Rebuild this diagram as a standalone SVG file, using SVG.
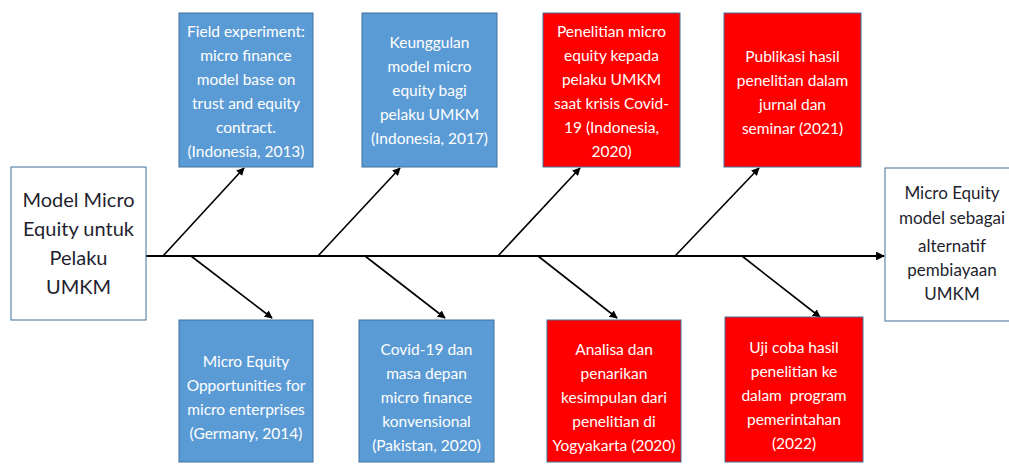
<svg xmlns="http://www.w3.org/2000/svg" width="1009" height="467" viewBox="0 0 1009 467">
<defs>
<marker id="ah" viewBox="0 0 10 10" refX="9" refY="5" markerWidth="5" markerHeight="5" orient="auto" markerUnits="strokeWidth">
<path d="M0,0 L10,5 L0,10 z" fill="#000"/>
</marker>
<marker id="ah2" viewBox="0 0 10 10" refX="9" refY="5" markerWidth="4" markerHeight="4" orient="auto" markerUnits="strokeWidth">
<path d="M0,0 L10,5 L0,10 z" fill="#000"/>
</marker>
<style>
.blue{fill:#5B9BD5;stroke:#41719C;stroke-width:1}
.red{fill:#FF0000;stroke:#41719C;stroke-width:1}
.wbox{fill:#FFFFFF;stroke:#41719C;stroke-width:1}
.t{font-family:Lato,"Liberation Sans",sans-serif;font-size:15.5px;fill:#FFFFFF;text-anchor:middle}
.d{font-family:Lato,"Liberation Sans",sans-serif;fill:#1F1F2F;text-anchor:middle}
.c{stroke:#000;stroke-width:1.6;fill:none;marker-end:url(#ah)}
.s{stroke:#000;stroke-width:2.2;fill:none;marker-end:url(#ah2)}
</style>
</defs>
<rect width="1009" height="467" fill="#FFFFFF"/>
<g id="connectors">
<line class="s" x1="146" y1="256" x2="884" y2="256"/>
<line class="c" x1="163" y1="256" x2="244" y2="168"/>
<line class="c" x1="318" y1="256" x2="400" y2="168"/>
<line class="c" x1="498" y1="256" x2="580" y2="168"/>
<line class="c" x1="675" y1="256" x2="759" y2="168"/>
<line class="c" x1="191" y1="256" x2="272" y2="318"/>
<line class="c" x1="365" y1="256" x2="445" y2="318"/>
<line class="c" x1="538" y1="256" x2="617" y2="318"/>
<line class="c" x1="742" y1="256" x2="820" y2="317"/>
</g>
<g id="start">
<rect class="wbox" x="11" y="167" width="135" height="153"/>
<text class="d" font-size="20" x="78.5"><tspan x="78.5" y="207">Model Micro</tspan><tspan x="78.5" y="236">Equity untuk</tspan><tspan x="78.5" y="265">Pelaku</tspan><tspan x="78.5" y="294">UMKM</tspan></text>
</g>
<g id="end">
<rect class="wbox" x="885" y="168" width="130" height="153"/>
<text class="d" font-size="17" x="952"><tspan x="952" y="199">Micro Equity</tspan><tspan x="952" y="224">model sebagai</tspan><tspan x="952" y="252">alternatif</tspan><tspan x="952" y="276">pembiayaan</tspan><tspan x="952" y="300">UMKM</tspan></text>
</g>
<g id="n1">
<rect class="blue" x="179" y="13" width="134" height="154"/>
<text class="t"><tspan x="246" y="37">Field experiment:</tspan><tspan x="246" y="61">micro finance</tspan><tspan x="246" y="85">model base on</tspan><tspan x="246" y="109">trust and equity</tspan><tspan x="246" y="133">contract.</tspan><tspan x="246" y="157">(Indonesia, 2013)</tspan></text>
</g>
<g id="n2">
<rect class="blue" x="362" y="13" width="135" height="154"/>
<text class="t"><tspan x="429.5" y="48">Keunggulan</tspan><tspan x="429.5" y="72">model micro</tspan><tspan x="429.5" y="96">equity bagi</tspan><tspan x="429.5" y="120">pelaku UMKM</tspan><tspan x="429.5" y="144">(Indonesia, 2017)</tspan></text>
</g>
<g id="n3">
<rect class="red" x="543" y="13" width="137" height="154"/>
<text class="t"><tspan x="611.5" y="37">Penelitian micro</tspan><tspan x="611.5" y="61">equity kepada</tspan><tspan x="611.5" y="85">pelaku UMKM</tspan><tspan x="611.5" y="109">saat krisis Covid-</tspan><tspan x="611.5" y="133">19 (Indonesia,</tspan><tspan x="611.5" y="157">2020)</tspan></text>
</g>
<g id="n4">
<rect class="red" x="724" y="13" width="137" height="154"/>
<text class="t"><tspan x="792.5" y="62">Publikasi hasil</tspan><tspan x="792.5" y="86">penelitian dalam</tspan><tspan x="792.5" y="110">jurnal dan</tspan><tspan x="792.5" y="134">seminar (2021)</tspan></text>
</g>
<g id="n5">
<rect class="blue" x="179" y="320" width="134" height="142"/>
<text class="t"><tspan x="246" y="367">Micro Equity</tspan><tspan x="246" y="391">Opportunities for</tspan><tspan x="246" y="415">micro enterprises</tspan><tspan x="246" y="439">(Germany, 2014)</tspan></text>
</g>
<g id="n6">
<rect class="blue" x="359" y="320" width="135" height="142"/>
<text class="t"><tspan x="426.5" y="355">Covid-19 dan</tspan><tspan x="426.5" y="379">masa depan</tspan><tspan x="426.5" y="403">micro finance</tspan><tspan x="426.5" y="427">konvensional</tspan><tspan x="426.5" y="451">(Pakistan, 2020)</tspan></text>
</g>
<g id="n7">
<rect class="red" x="547" y="320" width="134" height="142"/>
<text class="t"><tspan x="614" y="355">Analisa dan</tspan><tspan x="614" y="379">penarikan</tspan><tspan x="614" y="403">kesimpulan dari</tspan><tspan x="614" y="427">penelitian di</tspan><tspan x="614" y="451">Yogyakarta (2020)</tspan></text>
</g>
<g id="n8">
<rect class="red" x="725" y="317" width="138" height="145"/>
<text class="t"><tspan x="794" y="353">Uji coba hasil</tspan><tspan x="794" y="377">penelitian ke</tspan><tspan x="794" y="401">dalam&#160; program</tspan><tspan x="794" y="425">pemerintahan</tspan><tspan x="794" y="449">(2022)</tspan></text>
</g>
</svg>
